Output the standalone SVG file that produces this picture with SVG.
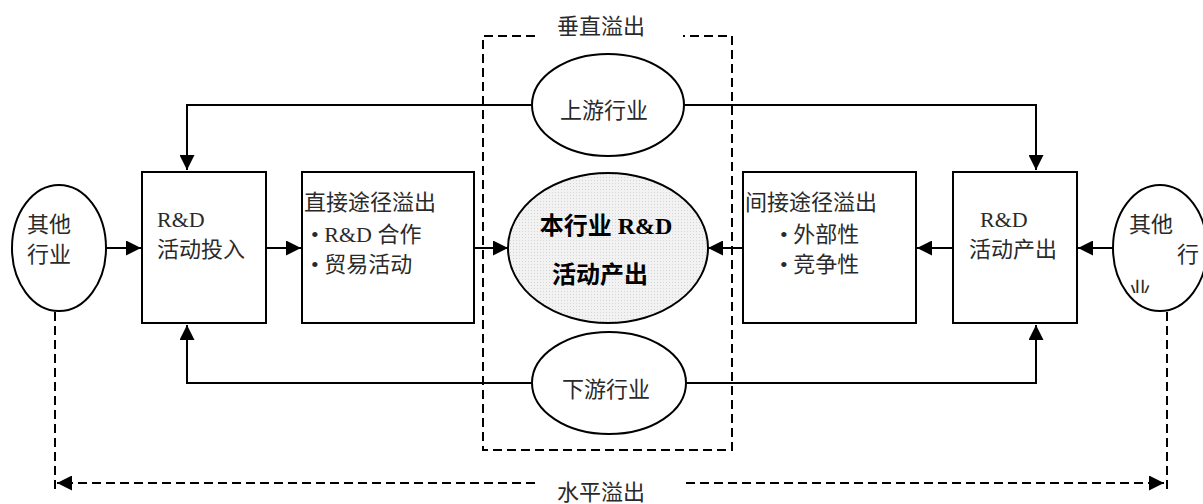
<svg xmlns="http://www.w3.org/2000/svg" width="1203" height="504" viewBox="0 0 1203 504">
<style>
.sh{fill:#fff;stroke:#000;stroke-width:2}
.t{font-family:"Liberation Serif","Noto Sans CJK SC",serif;font-size:22px;fill:#2a2a2a}
.b{font-weight:bold;font-size:24px;fill:#000}
.ln{fill:none;stroke:#000;stroke-width:2}
.ds{fill:none;stroke:#000;stroke-width:2;stroke-dasharray:9,5}
</style>
<defs>
<marker id="ah" viewBox="0 0 10 10" refX="10" refY="5" markerWidth="15" markerHeight="15" markerUnits="userSpaceOnUse" orient="auto"><path d="M0,0L10,5L0,10z" fill="#000"/></marker>
<pattern id="dots" width="3" height="3" patternUnits="userSpaceOnUse"><rect width="3" height="3" fill="#f2f2f2"/><rect width="1" height="1" fill="#d6d6d6"/></pattern>
<clipPath id="cl"><rect x="1100" y="270" width="60" height="23"/></clipPath>
</defs>
<g id="vertical-box">
<path class="ds" d="M535,36H483V450H732V36H683"/>
<text class="t" x="601" y="34" text-anchor="middle">垂直溢出</text>
</g>
<g id="connectors">
<path class="ln" d="M532,105H187V170" marker-end="url(#ah)"/>
<path class="ln" d="M684,105H1036V170" marker-end="url(#ah)"/>
<path class="ln" d="M532,383H187V325" marker-end="url(#ah)"/>
<path class="ln" d="M686,383H1036V325" marker-end="url(#ah)"/>
<path class="ln" d="M106,248H141" marker-end="url(#ah)"/>
<path class="ln" d="M266,248H301" marker-end="url(#ah)"/>
<path class="ln" d="M474,248H508" marker-end="url(#ah)"/>
<path class="ln" d="M743,248H708" marker-end="url(#ah)"/>
<path class="ln" d="M953,248H917" marker-end="url(#ah)"/>
<path class="ln" d="M1113,248H1078" marker-end="url(#ah)"/>
<path class="ds" d="M55,312V490"/>
<path class="ds" d="M1167,312V490"/>
<path class="ds" d="M535,483H57" marker-end="url(#ah)"/>
<path class="ds" d="M686,483H1164" marker-end="url(#ah)"/>
<text class="t" x="601" y="500" text-anchor="middle">水平溢出</text>
</g>
<g id="other-left">
<ellipse class="sh" cx="59" cy="248" rx="47" ry="63"/>
<text class="t" x="27" y="232">其他</text>
<text class="t" x="27" y="262">行业</text>
</g>
<g id="rd-input">
<rect class="sh" x="142" y="172" width="124" height="151"/>
<text class="t" x="157" y="227">R&amp;D</text>
<text class="t" x="157" y="257">活动投入</text>
</g>
<g id="direct">
<rect class="sh" x="302" y="172" width="172" height="151"/>
<text class="t" x="304" y="210">直接途径溢出</text>
<text class="t" x="311" y="242">• R&amp;D 合作</text>
<text class="t" x="311" y="272">• 贸易活动</text>
</g>
<g id="upstream">
<ellipse class="sh" cx="608" cy="105" rx="76" ry="51"/>
<text class="t" x="604" y="118" text-anchor="middle">上游行业</text>
</g>
<g id="core">
<ellipse cx="608" cy="248" rx="100" ry="75" fill="url(#dots)" stroke="#000" stroke-width="2"/>
<text class="t b" x="606" y="234" text-anchor="middle">本行业 R&amp;D</text>
<text class="t b" x="600" y="283" text-anchor="middle">活动产出</text>
</g>
<g id="downstream">
<ellipse class="sh" cx="609" cy="383" rx="77" ry="51"/>
<text class="t" x="606" y="397" text-anchor="middle">下游行业</text>
</g>
<g id="indirect">
<rect class="sh" x="743" y="172" width="173" height="151"/>
<text class="t" x="745" y="210">间接途径溢出</text>
<text class="t" x="780" y="242">• 外部性</text>
<text class="t" x="780" y="272">• 竞争性</text>
</g>
<g id="rd-output">
<rect class="sh" x="953" y="172" width="124" height="151"/>
<text class="t" x="980" y="227">R&amp;D</text>
<text class="t" x="969" y="257">活动产出</text>
</g>
<g id="other-right">
<ellipse class="sh" cx="1160" cy="248" rx="47" ry="63"/>
<text class="t" x="1129" y="232">其他</text>
<text class="t" x="1177" y="262">行</text>
<text class="t" x="1129" y="298" clip-path="url(#cl)">业</text>
</g>
</svg>
